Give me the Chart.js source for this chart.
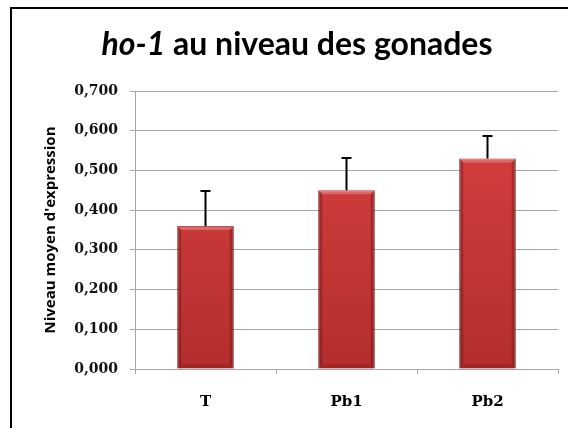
<!DOCTYPE html>
<html>
<head>
<meta charset="utf-8">
<script src="https://cdn.jsdelivr.net/npm/chart.js@4.4.0/dist/chart.umd.min.js"></script>
<style>
  html, body { margin: 0; padding: 0; background: #fff; }
  #wrap { position: relative; width: 568px; height: 428px; }
</style>
</head>
<body>
<div id="wrap"><canvas id="gonadChart" width="568" height="428"></canvas></div>
<script>
const categories = ['T', 'Pb1', 'Pb2'];
const meanExpression = [0.36, 0.45, 0.53];
const errorUp = [0.088, 0.081, 0.057];
const yTicks = [0, 0.1, 0.2, 0.3, 0.4, 0.5, 0.6, 0.7];

const GRID = '#a6a6a6';

function poly(ctx, pts) {
  ctx.beginPath();
  pts.forEach(([px, py], i) => (i ? ctx.lineTo(px, py) : ctx.moveTo(px, py)));
  ctx.closePath();
  ctx.fill();
}

// white page + black frame around the chart
const frame = {
  id: 'frame',
  beforeDraw(chart) {
    const { ctx } = chart;
    ctx.save();
    ctx.fillStyle = '#fff';
    ctx.fillRect(0, 0, chart.width, chart.height);
    ctx.strokeStyle = '#000';
    ctx.lineWidth = 2;
    ctx.strokeRect(11, 8, chart.width + 20, chart.height + 20);
    ctx.restore();
  },
};

// title with the gene name in italics
const heading = {
  id: 'heading',
  afterDraw(chart) {
    const { ctx } = chart;
    const gene = 'ho-1';
    const rest = ' au niveau des gonades';
    const size = 32;
    ctx.save();
    ctx.fillStyle = '#000';
    ctx.textBaseline = 'alphabetic';
    ctx.font = `italic bold ${size}px Lato`;
    const w1 = ctx.measureText(gene).width;
    ctx.font = `bold ${size}px Lato`;
    const w2 = ctx.measureText(rest).width;
    const x = 297 - (w1 + w2) / 2;
    ctx.font = `italic bold ${size}px Lato`;
    ctx.fillText(gene, x, 55);
    ctx.font = `bold ${size}px Lato`;
    ctx.fillText(rest, x + w1, 55);
    ctx.restore();
  },
};

// bevelled bar edges and upper error bars
const bevel = {
  id: 'bevel',
  afterDatasetsDraw(chart) {
    const { ctx } = chart;
    const yScale = chart.scales.y;
    const meta = chart.getDatasetMeta(0);
    ctx.save();
    meta.data.forEach((bar, i) => {
      const { x, y, base, width } = bar.getProps(['x', 'y', 'base', 'width'], true);
      const l = x - width / 2;
      const r = x + width / 2;
      const b = 4;
      ctx.fillStyle = 'rgba(80,10,10,0.30)';
      poly(ctx, [[l, y], [l + b, y + b], [l + b, base - b], [l, base]]);
      poly(ctx, [[r, y], [r - b, y + b], [r - b, base - b], [r, base]]);
      ctx.fillStyle = 'rgba(80,10,10,0.20)';
      poly(ctx, [[l, base], [l + b, base - b], [r - b, base - b], [r, base]]);
      ctx.fillStyle = 'rgba(255,190,190,0.35)';
      poly(ctx, [[l, y], [r, y], [r - b, y + b], [l + b, y + b]]);

      const top = yScale.getPixelForValue(meanExpression[i] + errorUp[i]);
      ctx.strokeStyle = '#000';
      ctx.lineWidth = 2;
      ctx.beginPath();
      ctx.moveTo(x, y);
      ctx.lineTo(x, top);
      ctx.moveTo(x - 5, top);
      ctx.lineTo(x + 5, top);
      ctx.stroke();
    });
    ctx.restore();
  },
};

const el = document.getElementById('gonadChart');
const chart = new Chart(el, {
  type: 'bar',
  data: {
    labels: categories,
    datasets: [
      {
        data: meanExpression,
        backgroundColor(c) {
          const area = c.chart.chartArea;
          if (!area) return '#c93a3a';
          const g = c.chart.ctx.createLinearGradient(0, area.top, 0, area.bottom);
          g.addColorStop(0, '#db4242');
          g.addColorStop(1, '#b42e2e');
          return g;
        },
        borderColor: '#8a2020',
        borderWidth: 1,
        categoryPercentage: 0.8,
        barPercentage: 0.5,
      },
    ],
  },
  options: {
    responsive: false,
    animation: false,
    layout: { padding: { top: 91, right: 10, left: 0, bottom: 0 } },
    plugins: {
      legend: { display: false },
      tooltip: { enabled: false },
    },
    scales: {
      x: {
        grid: { display: true, drawOnChartArea: false, tickLength: 5, color: GRID },
        border: { color: GRID },
        ticks: {
          color: '#000',
          padding: 19,
          font: { family: 'DejaVu Serif', weight: 'bold', size: 15 },
        },
        afterFit(s) { s.height = 59; },
      },
      y: {
        min: 0,
        max: 0.7,
        afterBuildTicks(s) { s.ticks = yTicks.map((v) => ({ value: v })); },
        ticks: {
          color: '#111',
          padding: 12,
          font: { family: 'DejaVu Serif', weight: 'bold', size: 14 },
          callback: (v) => Number(v).toFixed(3).replace('.', ','),
        },
        grid: { color: GRID, tickLength: 5 },
        border: { color: GRID },
        title: {
          display: true,
          text: "Niveau moyen d'expression",
          color: '#000',
          font: { family: 'Open Sans', weight: 'bold', size: 15 },
          padding: { top: 42, bottom: 0 },
        },
        afterFit(s) { s.width = 135; },
      },
    },
  },
  plugins: [frame, heading, bevel],
});
</script>
</body>
</html>
